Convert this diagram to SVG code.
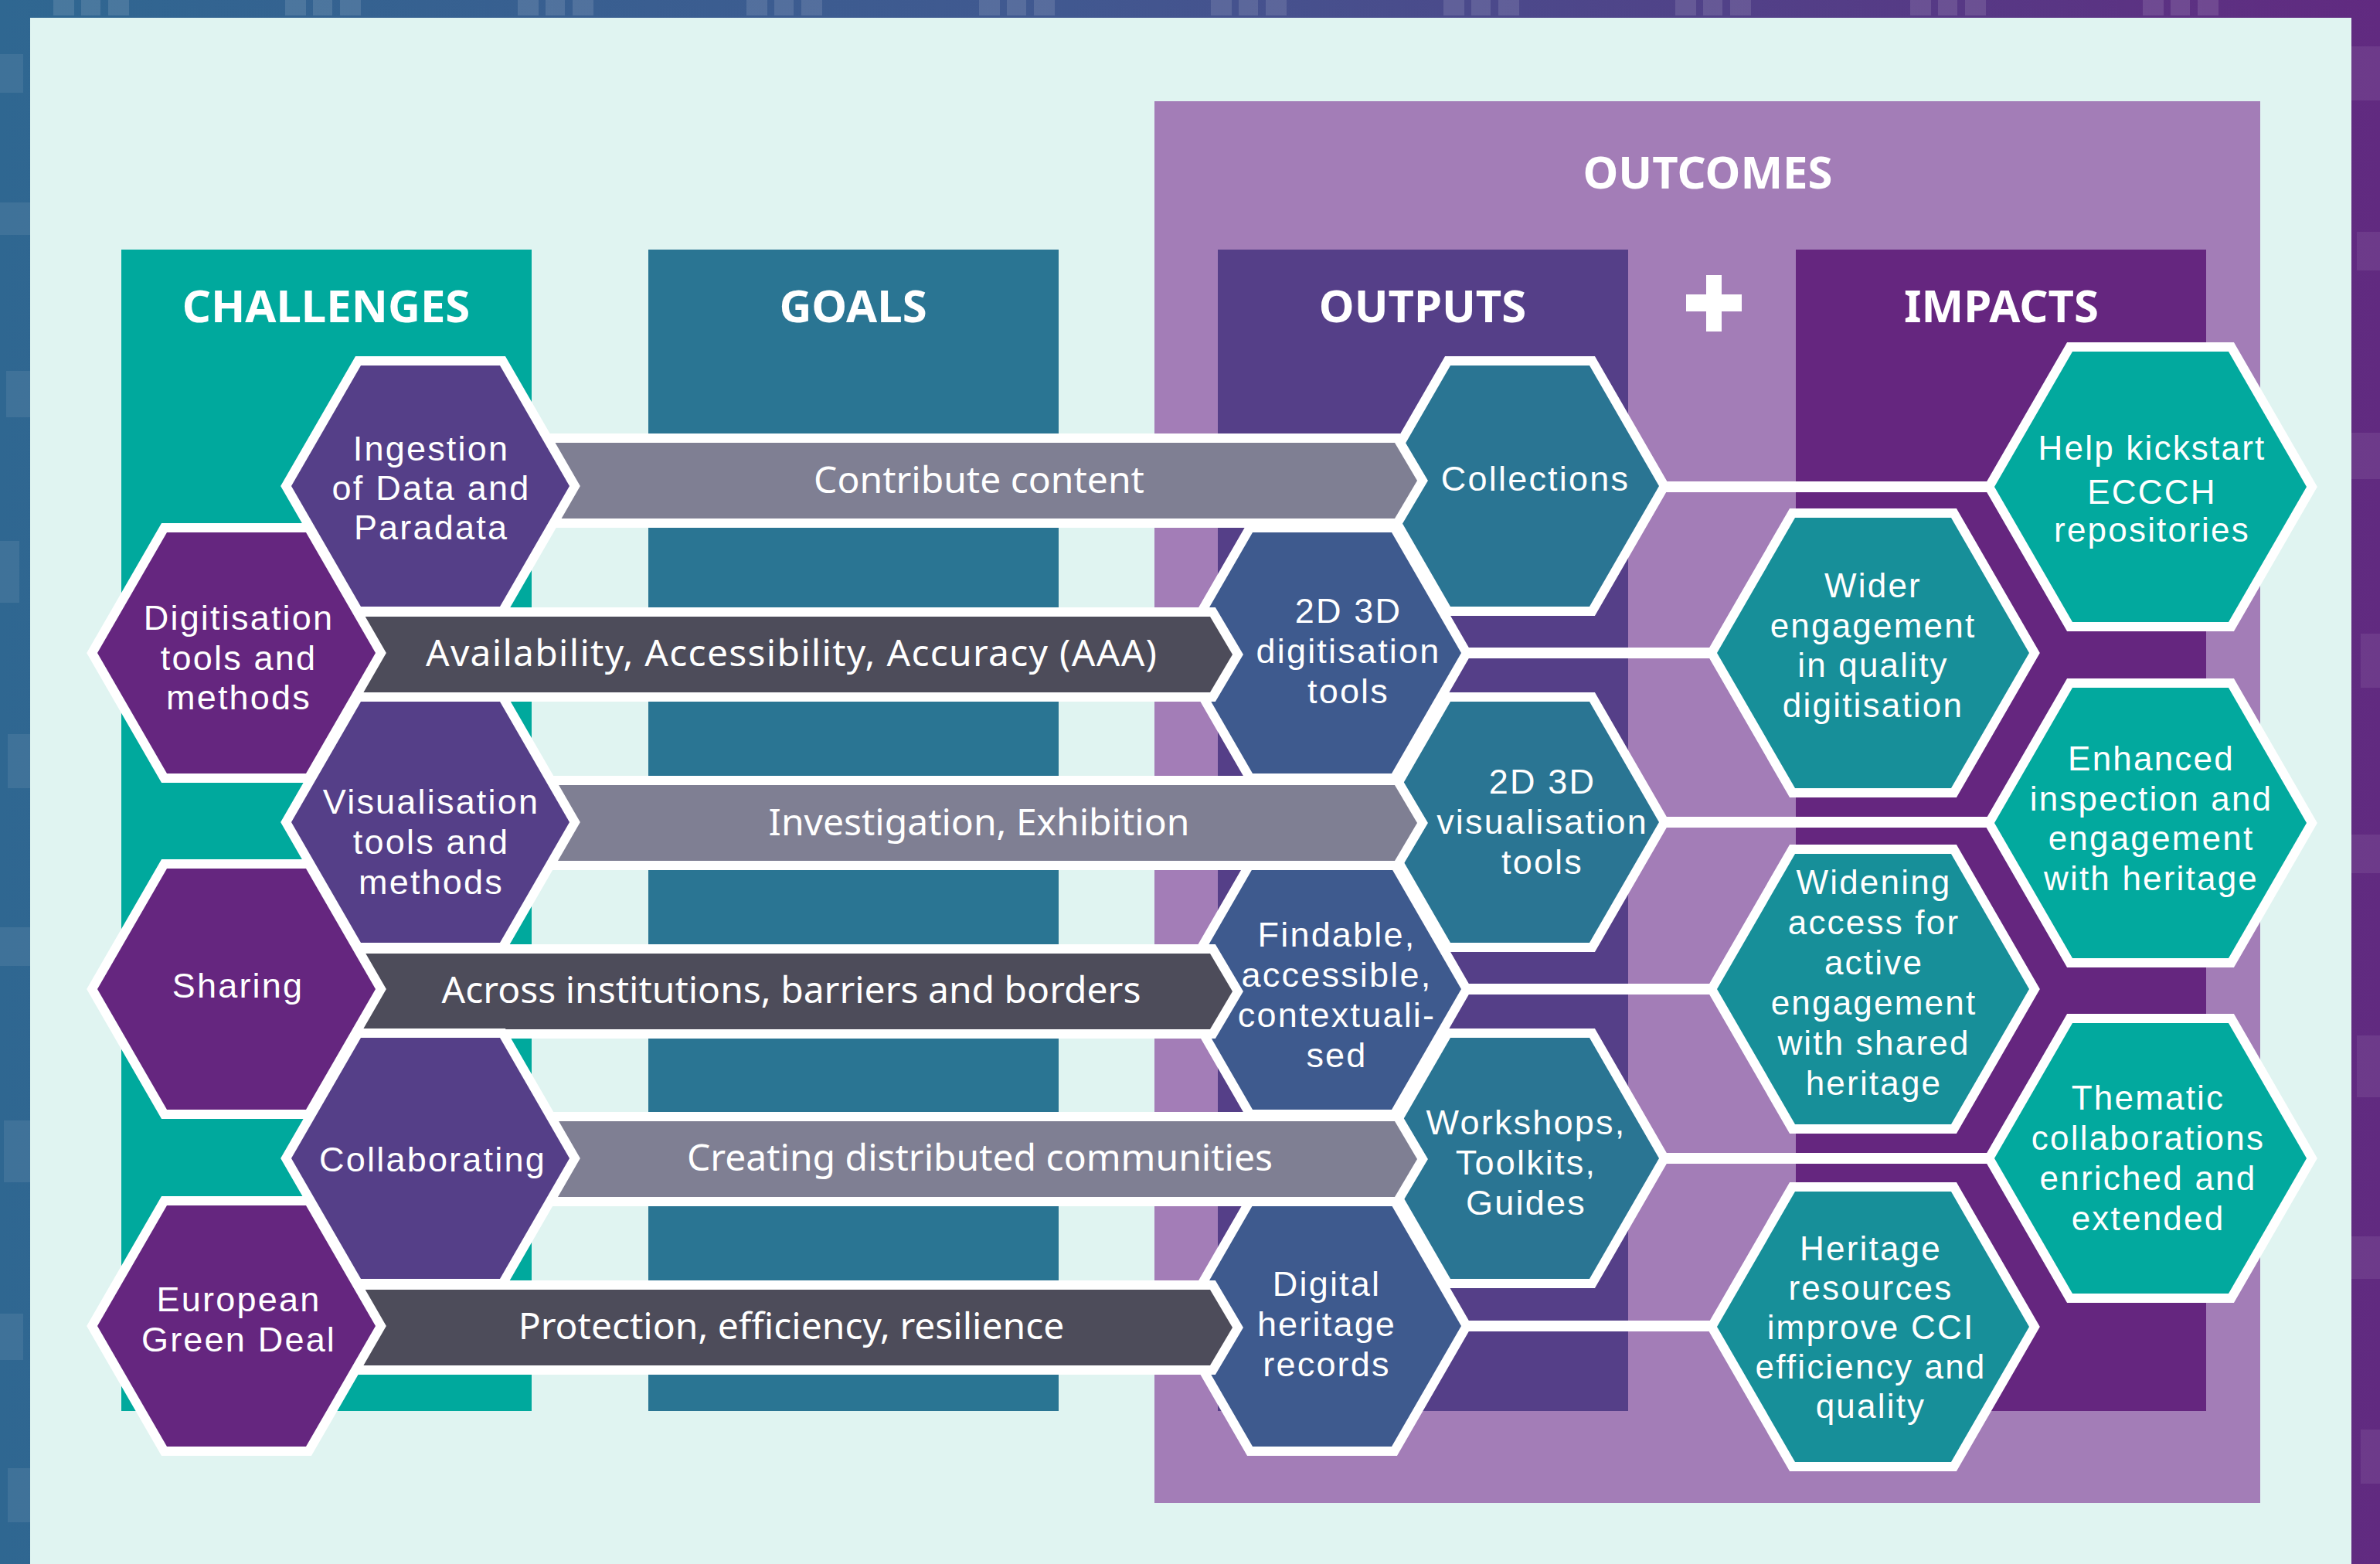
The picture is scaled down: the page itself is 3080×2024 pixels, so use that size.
<svg xmlns="http://www.w3.org/2000/svg" width="3080" height="2024" viewBox="0 0 3080 2024">
<defs>
<linearGradient id="frame" x1="0" y1="0" x2="1" y2="0">
<stop offset="0" stop-color="#2f6791"/>
<stop offset="0.45" stop-color="#415890"/>
<stop offset="1" stop-color="#612a80"/>
</linearGradient>
<style>
.hx{stroke:#ffffff;stroke-width:24;paint-order:stroke;stroke-linejoin:miter}
.t{font-family:"Noto Sans","DejaVu Sans",sans-serif;fill:#ffffff;text-anchor:middle}
.ht{font-family:"Liberation Sans","Arial",sans-serif;fill:#ffffff;text-anchor:middle}
.hd{font-weight:700;font-size:58px}
.s48{font-size:48px}
.s45{font-size:45px;letter-spacing:2.2px}
.s44{font-size:44px;letter-spacing:2.2px}
.chR{fill:#553f88}
.chL{fill:#65267f}
.opR{fill:#2a7593}
.opL{fill:#3e5a8e}
.imL{fill:#178f99}
.imR{fill:#02a99e}
.barG{fill:#7f7f93}
.barD{fill:#4d4c5a}
.link{stroke:#ffffff;stroke-width:14;fill:none}
</style>
</defs>

<!-- frame -->
<g id="frame-bg">
<rect x="0" y="0" width="3080" height="2024" fill="url(#frame)"/>
<g fill="#ffffff" fill-opacity="0.12">
<rect x="69" y="0" width="27" height="20"/><rect x="105" y="0" width="25" height="20"/><rect x="140" y="0" width="27" height="20"/>
<rect x="369" y="0" width="27" height="20"/><rect x="405" y="0" width="25" height="20"/><rect x="440" y="0" width="27" height="20"/>
<rect x="670" y="0" width="27" height="20"/><rect x="706" y="0" width="25" height="20"/><rect x="741" y="0" width="27" height="20"/>
<rect x="966" y="0" width="27" height="20"/><rect x="1002" y="0" width="25" height="20"/><rect x="1037" y="0" width="27" height="20"/>
<rect x="1267" y="0" width="27" height="20"/><rect x="1303" y="0" width="25" height="20"/><rect x="1338" y="0" width="27" height="20"/>
<rect x="1567" y="0" width="27" height="20"/><rect x="1603" y="0" width="25" height="20"/><rect x="1638" y="0" width="27" height="20"/>
<rect x="1868" y="0" width="27" height="20"/><rect x="1904" y="0" width="25" height="20"/><rect x="1939" y="0" width="27" height="20"/>
<rect x="2168" y="0" width="27" height="20"/><rect x="2204" y="0" width="25" height="20"/><rect x="2239" y="0" width="27" height="20"/>
<rect x="2472" y="0" width="27" height="20"/><rect x="2508" y="0" width="25" height="20"/><rect x="2543" y="0" width="27" height="20"/>
<rect x="2773" y="0" width="27" height="20"/><rect x="2809" y="0" width="25" height="20"/><rect x="2844" y="0" width="27" height="20"/>
</g>
<g fill="#ffffff" fill-opacity="0.08">
<rect x="0" y="70" width="30" height="50"/><rect x="0" y="262" width="39" height="42"/><rect x="8" y="480" width="31" height="60"/>
<rect x="0" y="700" width="25" height="80"/><rect x="10" y="950" width="29" height="70"/><rect x="0" y="1200" width="39" height="50"/>
<rect x="5" y="1450" width="34" height="80"/><rect x="0" y="1700" width="30" height="60"/><rect x="10" y="1900" width="29" height="70"/>
<rect x="3043" y="60" width="37" height="70"/><rect x="3050" y="300" width="30" height="50"/><rect x="3043" y="560" width="37" height="60"/>
<rect x="3055" y="820" width="25" height="70"/><rect x="3043" y="1080" width="37" height="50"/><rect x="3050" y="1340" width="30" height="80"/>
<rect x="3043" y="1600" width="37" height="55"/><rect x="3055" y="1850" width="25" height="70"/>
</g>
<rect x="39" y="23" width="3004" height="2001" fill="#e0f4f1"/>
</g>

<!-- column backgrounds -->
<g id="columns">
<rect id="col-challenges" x="157" y="323" width="531" height="1503" fill="#00a99d"/>
<rect id="col-goals" x="839" y="323" width="531" height="1503" fill="#2a7593"/>
<rect id="box-outcomes" x="1494" y="131" width="1431" height="1814" fill="#a37db7"/>
<rect id="col-outputs" x="1576" y="323" width="531" height="1503" fill="#553f88"/>
<rect id="col-impacts" x="2324" y="323" width="531" height="1503" fill="#65267f"/>
<text class="t hd" x="2210" y="244">OUTCOMES</text>
<text class="t hd" x="422" y="417">CHALLENGES</text>
<text class="t hd" x="1104" y="417">GOALS</text>
<text class="t hd" x="1841" y="417">OUTPUTS</text>
<text class="t hd" x="2590" y="417">IMPACTS</text>
<g id="plus" fill="#ffffff">
<rect x="2208" y="356" width="20" height="73"/>
<rect x="2182" y="381" width="72" height="22"/>
</g>
</g>

<!-- connectors outputs -> impacts -->
<g id="links">
<line class="link" x1="1967" y1="630" x2="2783" y2="630"/>
<line class="link" x1="1711" y1="845" x2="2424" y2="845"/>
<line class="link" x1="1967" y1="1064" x2="2783" y2="1064"/>
<line class="link" x1="1711" y1="1280" x2="2424" y2="1280"/>
<line class="link" x1="1967" y1="1499" x2="2783" y2="1499"/>
<line class="link" x1="1711" y1="1716" x2="2424" y2="1716"/>
</g>

<!-- impacts -->
<g id="impact-help">
<polygon class="hx imR" points="2581,630 2682,455 2884,455 2985,630 2884,805 2682,805"/>
<text class="ht s44"><tspan x="2785" y="595">Help kickstart</tspan><tspan x="2785" y="652">ECCCH</tspan><tspan x="2785" y="701">repositories</tspan></text>
</g>
<g id="impact-wider">
<polygon class="hx imL" points="2222,845 2323,670 2525,670 2626,845 2525,1020 2323,1020"/>
<text class="ht s44"><tspan x="2424" y="773">Wider</tspan><tspan x="2424" y="825">engagement</tspan><tspan x="2424" y="876">in quality</tspan><tspan x="2424" y="928">digitisation</tspan></text>
</g>
<g id="impact-enhanced">
<polygon class="hx imR" points="2581,1065 2682,890 2884,890 2985,1065 2884,1240 2682,1240"/>
<text class="ht s44"><tspan x="2784" y="997">Enhanced</tspan><tspan x="2784" y="1049">inspection and</tspan><tspan x="2784" y="1100">engagement</tspan><tspan x="2784" y="1152">with heritage</tspan></text>
</g>
<g id="impact-widening">
<polygon class="hx imL" points="2222,1280 2323,1105 2525,1105 2626,1280 2525,1455 2323,1455"/>
<text class="ht s44"><tspan x="2425" y="1157">Widening</tspan><tspan x="2425" y="1209">access for</tspan><tspan x="2425" y="1261">active</tspan><tspan x="2425" y="1313">engagement</tspan><tspan x="2425" y="1365">with shared</tspan><tspan x="2425" y="1417">heritage</tspan></text>
</g>
<g id="impact-thematic">
<polygon class="hx imR" points="2581,1499 2682,1324 2884,1324 2985,1499 2884,1674 2682,1674"/>
<text class="ht s44"><tspan x="2780" y="1436">Thematic</tspan><tspan x="2780" y="1488">collaborations</tspan><tspan x="2780" y="1540">enriched and</tspan><tspan x="2780" y="1592">extended</tspan></text>
</g>
<g id="impact-heritage">
<polygon class="hx imL" points="2222,1717 2323,1542 2525,1542 2626,1717 2525,1892 2323,1892"/>
<text class="ht s44"><tspan x="2421" y="1631">Heritage</tspan><tspan x="2421" y="1682">resources</tspan><tspan x="2421" y="1733">improve CCI</tspan><tspan x="2421" y="1784">efficiency and</tspan><tspan x="2421" y="1835">quality</tspan></text>
</g>

<!-- outputs -->
<g id="output-collections">
<polygon class="hx opR" points="1787,629 1877,473 2057,473 2147,629 2057,785 1877,785"/>
<text class="ht s45"><tspan x="1987" y="635">Collections</tspan></text>
</g>
<g id="output-digitisation">
<polygon class="hx opL" points="1531,845 1621,689 1801,689 1891,845 1801,1001 1621,1001"/>
<text class="ht s45"><tspan x="1745" y="806">2D 3D</tspan><tspan x="1745" y="858">digitisation</tspan><tspan x="1745" y="910">tools</tspan></text>
</g>
<g id="output-visualisation">
<polygon class="hx opR" points="1787,1064 1877,908 2057,908 2147,1064 2057,1220 1877,1220"/>
<text class="ht s45"><tspan x="1996" y="1027">2D 3D</tspan><tspan x="1996" y="1079">visualisation</tspan><tspan x="1996" y="1131">tools</tspan></text>
</g>
<g id="output-findable">
<polygon class="hx opL" points="1531,1280 1621,1124 1801,1124 1891,1280 1801,1436 1621,1436"/>
<text class="ht s45"><tspan x="1730" y="1225">Findable,</tspan><tspan x="1730" y="1277">accessible,</tspan><tspan x="1730" y="1329">contextuali-</tspan><tspan x="1730" y="1381">sed</tspan></text>
</g>
<g id="output-workshops">
<polygon class="hx opR" points="1787,1499 1877,1343 2057,1343 2147,1499 2057,1655 1877,1655"/>
<text class="ht s45"><tspan x="1975" y="1468">Workshops,</tspan><tspan x="1975" y="1520">Toolkits,</tspan><tspan x="1975" y="1572">Guides</tspan></text>
</g>
<g id="output-digital">
<polygon class="hx opL" points="1531,1716 1621,1560 1801,1560 1891,1716 1801,1872 1621,1872"/>
<text class="ht s45"><tspan x="1717" y="1677">Digital</tspan><tspan x="1717" y="1729">heritage</tspan><tspan x="1717" y="1781">records</tspan></text>
</g>

<!-- goal arrows (challenges -> outputs) -->
<g id="connectors">
<g id="arrow-contribute">
<polygon class="hx barG" points="557,573 1805,573 1834,622 1805,671 557,671"/>
<text class="t s48" x="1267" y="638">Contribute content</text>
</g>
<g id="arrow-aaa">
<polygon class="hx barD" points="306,798 1566,798 1595,847 1566,896 306,896"/>
<text class="t s48" x="1024" y="862" textLength="946" lengthAdjust="spacing">Availability, Accessibility, Accuracy (AAA)</text>
</g>
<g id="arrow-investigation">
<polygon class="hx barG" points="557,1016 1805,1016 1834,1065 1805,1114 557,1114"/>
<text class="t s48" x="1267" y="1081">Investigation, Exhibition</text>
</g>
<g id="arrow-across">
<polygon class="hx barD" points="306,1234 1566,1234 1595,1283 1566,1332 306,1332"/>
<text class="t s48" x="1024" y="1298">Across institutions, barriers and borders</text>
</g>
<g id="arrow-creating">
<polygon class="hx barG" points="557,1451 1805,1451 1834,1500 1805,1549 557,1549"/>
<text class="t s48" x="1268" y="1515">Creating distributed communities</text>
</g>
<g id="arrow-protection">
<polygon class="hx barD" points="306,1669 1566,1669 1595,1718 1566,1767 306,1767"/>
<text class="t s48" x="1024" y="1733">Protection, efficiency, resilience</text>
</g>
</g>

<!-- challenges -->
<g id="challenge-ingestion">
<polygon class="hx chR" points="377,629 467,473 647,473 737,629 647,785 467,785"/>
<text class="ht s45"><tspan x="558" y="596">Ingestion</tspan><tspan x="558" y="647">of Data and</tspan><tspan x="558" y="698">Paradata</tspan></text>
</g>
<g id="challenge-digitisation">
<polygon class="hx chL" points="126,845 216,689 396,689 486,845 396,1001 216,1001"/>
<text class="ht s45"><tspan x="309" y="815">Digitisation</tspan><tspan x="309" y="867">tools and</tspan><tspan x="309" y="918">methods</tspan></text>
</g>
<g id="challenge-visualisation">
<polygon class="hx chR" points="377,1064 467,908 647,908 737,1064 647,1220 467,1220"/>
<text class="ht s45"><tspan x="558" y="1053">Visualisation</tspan><tspan x="558" y="1105">tools and</tspan><tspan x="558" y="1157">methods</tspan></text>
</g>
<g id="challenge-sharing">
<polygon class="hx chL" points="126,1280 216,1124 396,1124 486,1280 396,1436 216,1436"/>
<text class="ht s45" x="308" y="1291">Sharing</text>
</g>
<g id="challenge-collaborating">
<polygon class="hx chR" points="377,1499 467,1343 647,1343 737,1499 647,1655 467,1655"/>
<text class="ht s45" x="560" y="1516">Collaborating</text>
</g>
<g id="challenge-european">
<polygon class="hx chL" points="126,1716 216,1560 396,1560 486,1716 396,1872 216,1872"/>
<text class="ht s45"><tspan x="309" y="1697">European</tspan><tspan x="309" y="1749">Green Deal</tspan></text>
</g>
</svg>
